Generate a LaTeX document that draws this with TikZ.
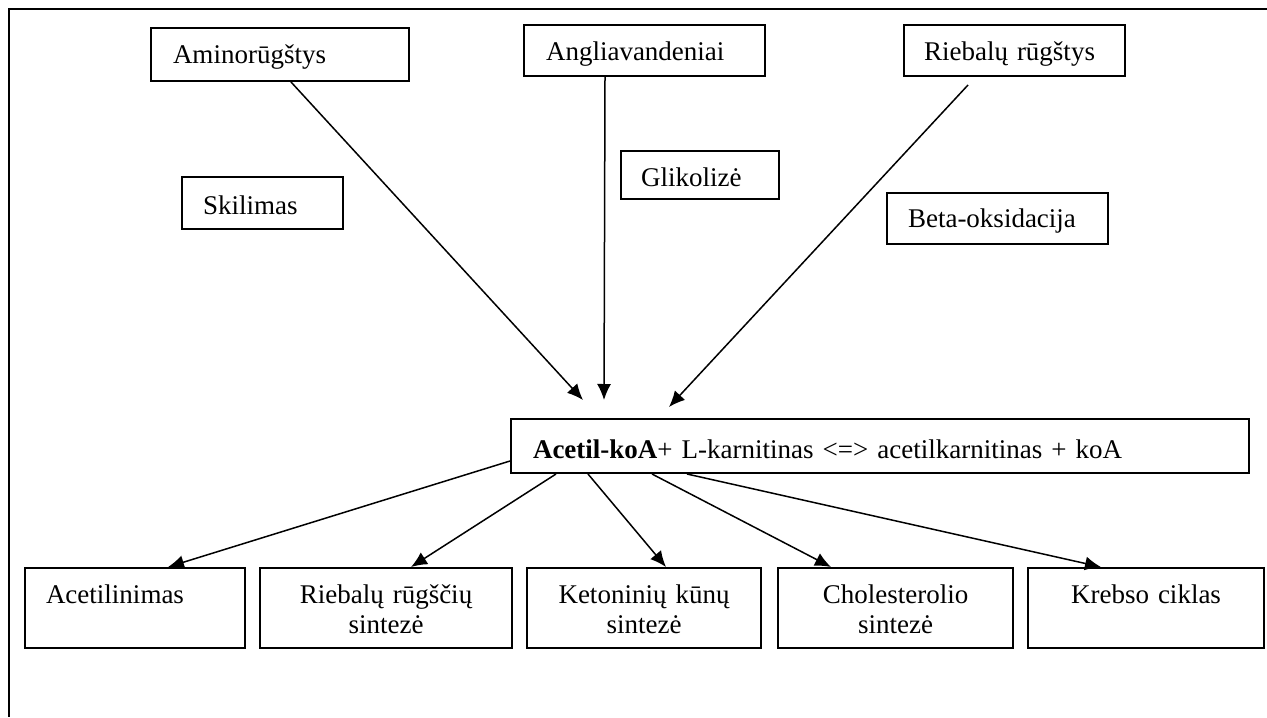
\documentclass[tikz,border=0pt]{standalone}
\usepackage{fontspec}
\setmainfont{Liberation Serif}
\usetikzlibrary{arrows.meta}
\begin{document}
\begin{tikzpicture}[x=0.5pt, y=-0.5pt, font=\fontsize{13.5}{15}\selectfont,
    box/.style={draw, line width=1pt, anchor=north west, inner ysep=0pt, align=left},
    res/.style={draw, line width=1pt, anchor=north west, inner sep=0pt, align=center, text height=17.5pt, text depth=22.5pt},
    arr/.style={-{Latex[length=8pt,width=7pt]}, line width=0.75pt}]
        \useasboundingbox (0,0) rectangle (1267,717);
        \draw [line width=1pt] (1267,9) -- (9,9) -- (9,717);
        \node [box, inner xsep=11pt, text width=107pt, text height=18pt, text depth=8.5pt] (amino) at (150,27) {Aminorūgštys};
        \node [box, inner xsep=11pt, text width=98.5pt, text height=18pt, text depth=7.5pt] (angl) at (523,24) {Angliavandeniai};
        \node [box, inner xsep=10pt, text width=90.5pt, text height=18pt, text depth=7.5pt] (riebr) at (903,24) {Riebalų rūgštys};
        \node [box, inner xsep=10.5pt, text width=59.5pt, text height=18.5pt, text depth=7.5pt] (skil) at (181,176) {Skilimas};
        \node [box, inner xsep=10pt, text width=59pt, text height=17.5pt, text depth=6.5pt] (glik) at (620,150) {Glikolizė};
        \node [box, inner xsep=10.5pt, text width=89.5pt, text height=17pt, text depth=8.5pt] (beta) at (886,192) {Beta-oksidacija};
        \node [box, inner xsep=11pt, text width=347pt, text height=19.5pt, text depth=7.5pt] (acetil) at (510,418) {\textbf{Acetil-koA}+ L-karnitinas <=> acetilkarnitinas + koA};
        \node [res, align=left, inner xsep=10.5pt, text width=89pt] (acetilin) at (24,567) {Acetilinimas};
        \node [res, text width=126pt] (rrs) at (259,567) {Riebalų rūgščių\\sintezė};
        \node [res, text width=117pt] (ket) at (526,567) {Ketoninių kūnų\\sintezė};
        \node [res, text width=117.5pt] (chol) at (777,567) {Cholesterolio\\sintezė};
        \node [res, text width=118pt] (krebs) at (1027,567) {Krebso ciklas};
        \draw [arr] ([xshift=5.5pt]amino.south) -- ([xshift=36.5pt,yshift=9pt]acetil.north west);
        \draw [arr] ([xshift=-19.75pt]angl.south) -- ([xshift=47pt,yshift=9pt]acetil.north west);
        \draw [arr] ([xshift=-23.25pt,yshift=-4pt]riebr.south) -- ([xshift=79.5pt,yshift=5.5pt]acetil.north west);
        \draw [arr] ([yshift=-7.5pt]acetil.west) -- ([xshift=16.5pt]acetilin.north);
        \draw [arr] ([xshift=23pt]acetil.south west) -- ([xshift=12.5pt]rrs.north);
        \draw [arr] ([xshift=39pt]acetil.south west) -- ([xshift=11pt]ket.north);
        \draw [arr] ([xshift=71pt]acetil.south west) -- ([xshift=-32.25pt]chol.north);
        \draw [arr] ([xshift=88.5pt]acetil.south west) -- ([xshift=-22.5pt]krebs.north);
    \end{tikzpicture}
\end{document}
